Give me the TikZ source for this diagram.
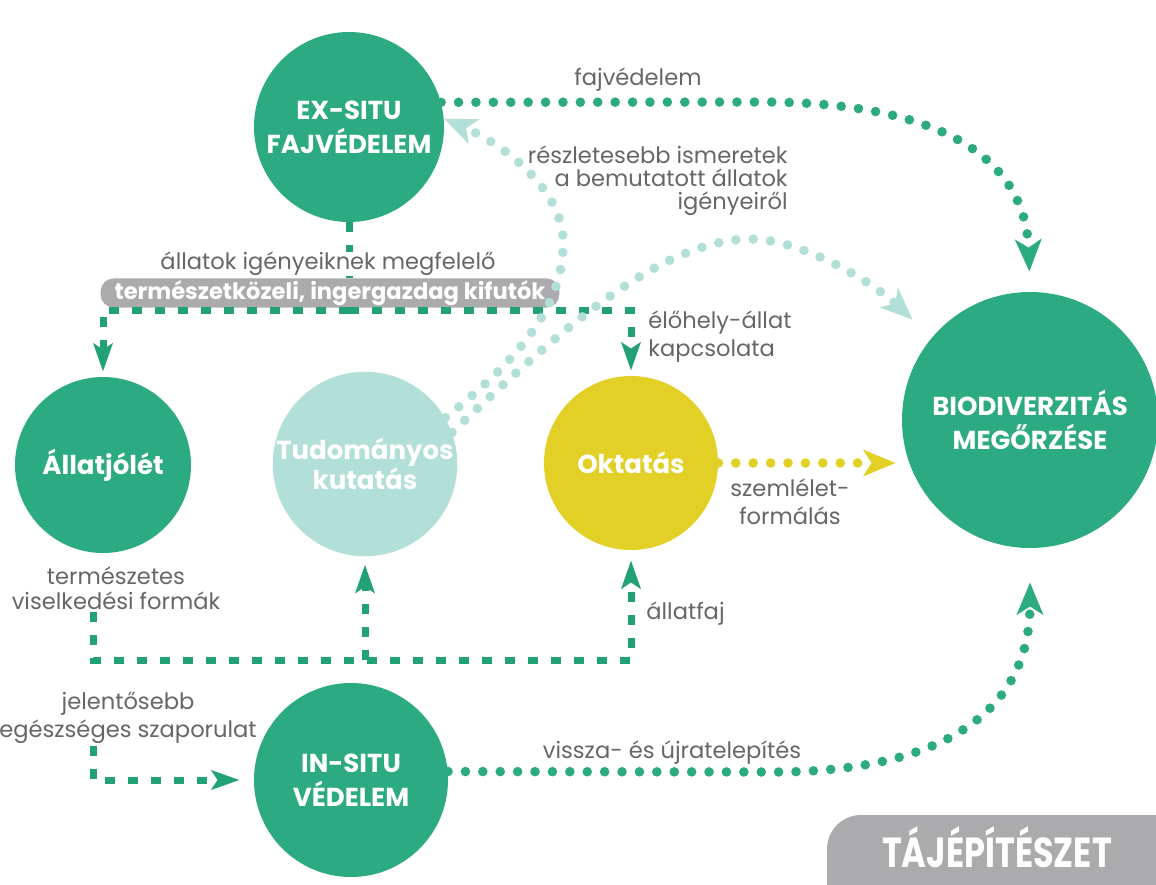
\documentclass[tikz,border=0pt]{standalone}
\usepackage{fontspec}
\usepackage{graphicx}
\setmainfont{Poppins}
\usetikzlibrary{arrows.meta,calc}
\definecolor{mainGreen}{HTML}{2CAA82}
\definecolor{dashGreen}{HTML}{23A176}
\definecolor{lightTeal}{HTML}{B3DFD9}
\definecolor{eduYellow}{HTML}{E3D026}
\definecolor{labelGray}{HTML}{666666}
\definecolor{boxGray}{HTML}{ABABAD}
\begin{document}
\begin{tikzpicture}[x=0.5pt,y=-0.5pt,font=\fontsize{11.3}{14}\selectfont,
    disc/.style={circle,fill=mainGreen,text=white,inner sep=0pt,align=center,font=\fontsize{13}{17}\selectfont\bfseries},
    lbl/.style={text=labelGray,align=center,inner sep=1pt},
    dotline/.style={line width=4.8pt,line cap=round,dash pattern=on 0pt off 8.7pt},
    dashline/.style={draw=dashGreen,line width=3.5pt,dash pattern=on 5pt off 6.5pt},
    bigtip/.style={-{Stealth[length=16pt,width=13pt,inset=4pt]}},
    smalltip/.style={-{Stealth[length=14pt,width=9.5pt,inset=3pt]}}]
    \useasboundingbox (0,0) rectangle (1156,884);
    % circles
    \node[disc,minimum size=95pt] (exsitu) at (349,127) {EX-SITU\\FAJVÉDELEM};
    \node[disc,minimum size=88pt] (allat) at (103,465) {Állatjólét};
    \node[disc,minimum size=88pt,fill=lightTeal,font=\fontsize{13}{13.5}\selectfont\bfseries] (tudom) at (365,464) {Tudományos\\kutatás};
    \node[disc,minimum size=87pt,fill=eduYellow] (okt) at (631,463) {Oktatás};
    \node[disc,minimum size=128pt] (bio) at (1030,420) {BIODIVERZITÁS\\MEGŐRZÉSE};
    \node[disc,minimum size=97pt] (insitu) at (351,780) {IN-SITU\\VÉDELEM};
    % ex-situ -> kifutok
    \coordinate (split) at (349,310);
    \draw[dashline] (exsitu.south) -- (split);
    \node[lbl,fill=white,inner ysep=0pt] (igeny) at (328,264) {állatok igényeiknek megfelelő};
    \node[fill=boxGray,text=white,rounded corners=6.5pt,inner xsep=7pt,inner ysep=1pt,minimum height=12pt,font=\fontsize{11.3}{14}\selectfont\bfseries] (kifuto) at (330,293) {természetközeli, ingergazdag kifutók};
    \draw[dashline,smalltip,shorten >=2.5pt] (split) -| (allat.north);
    \draw[dashline,smalltip,shorten >=2.5pt] (split) -| (okt.north);
    % labels
    \node[lbl] at (638,80) {fajvédelem};
    \node[lbl,align=right,anchor=east,font=\fontsize{11.3}{11.5}\selectfont] at (790,181) {részletesebb ismeretek\\a bemutatott állatok\\igényeiről};
    \node[lbl,align=left,anchor=west] at (646,337) {élőhely-állat\\kapcsolata};
    \node[lbl] at (790,502) {szemlélet-\\formálás};
    \node[lbl,anchor=west] at (644,614) {állatfaj};
    \node[lbl,font=\fontsize{11.3}{12.5}\selectfont] (viselk) at (116,588) {természetes\\viselkedési formák};
    \node[lbl] (szap) at (128,718) {jelentősebb\\egészséges szaporulat};
    \node[lbl] at (672,753) {vissza- és újratelepítés};
    % dotted arrows
    \draw[dotline,bigtip,mainGreen,shorten >=10pt] (exsitu.15) -- (770,102) .. controls (960,104) and (1026,170) .. (bio.north);
    \draw[dotline,bigtip,lightTeal] (tudom.30) .. controls (525,355) and (565,300) .. (563,240) .. controls (562,190) and (505,145) .. (exsitu.5);
    \draw[dotline,bigtip,lightTeal,shorten >=13pt] (tudom.20) .. controls (560,330) and (660,240) .. (750,239) .. controls (800,239) and (870,280) .. (bio.140);
    \draw[dotline,bigtip,eduYellow,shorten >=3pt] (okt.east) -- (okt.east -| bio.west);
    \draw[dotline,bigtip,mainGreen,shorten >=17pt] (insitu.5) -- (780,772) .. controls (960,770) and (1030,700) .. (bio.south);
    % dashed arrows
    \coordinate (botjoin) at (366,660);
    \draw[dashline,smalltip,shorten >=5pt] ([xshift=-11.5pt]viselk.south) |- (okt.south |- botjoin) -- (okt.south);
    \draw[dashline,smalltip,shorten >=4pt] (tudom.south |- botjoin) -- (tudom.south);
    \draw[dashline,smalltip,shorten >=7pt] ([xshift=-17.5pt]szap.south) |- (insitu.west);
    % badge
    \fill[boxGray,rounded corners=17pt] (827,815) rectangle (1200,930);
    \node[text=white,anchor=base,inner sep=0pt,font=\fontsize{21}{21}\selectfont\bfseries] (badge) at (997,867) {\scalebox{0.8}[1]{TÁJÉPÍTÉSZET}};
\end{tikzpicture}
\end{document}
